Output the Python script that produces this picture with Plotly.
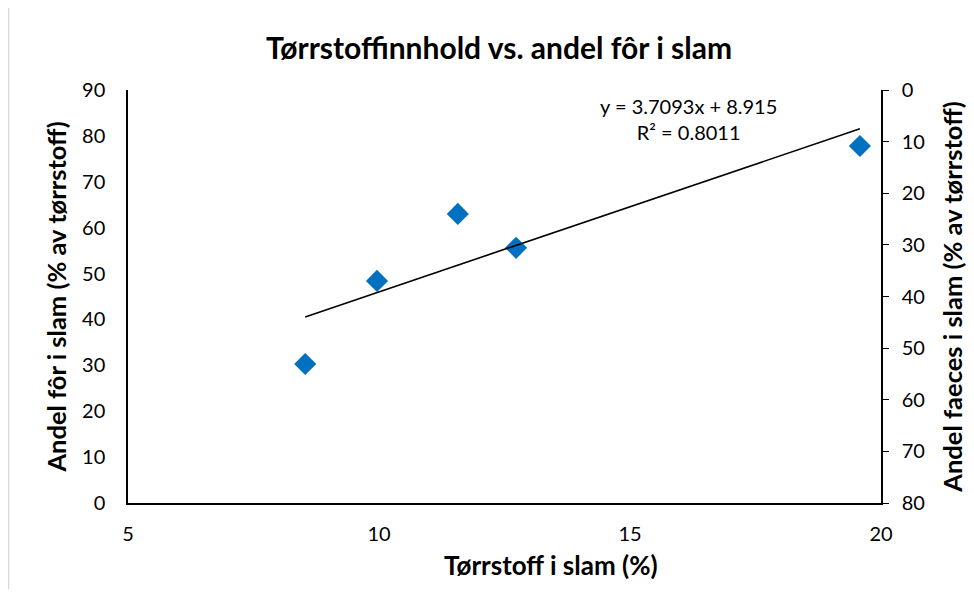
import plotly.graph_objects as go

# Data
torrstoff = [8.53, 9.96, 11.57, 12.73, 19.58]     # Tørrstoff i slam (%)
andel_for = [30.3, 48.4, 63.0, 55.6, 77.8]        # Andel fôr i slam (% av tørrstoff)
slope = 3.7093
intercept = 8.915
r2 = 0.8011

x_ticks = [5, 10, 15, 20]
y_ticks = [0, 10, 20, 30, 40, 50, 60, 70, 80, 90]
y2_ticks = [0, 10, 20, 30, 40, 50, 60, 70, 80]

trend_x = [min(torrstoff), max(torrstoff)]
trend_y = [slope * v + intercept for v in trend_x]

FONT = "Lato"
W, H = 966, 591
L, R, T, B = 120, 93, 82, 96
PW, PH = W - L - R, H - T - B

fig = go.Figure()
fig.add_trace(go.Scatter(
    x=torrstoff, y=andel_for, mode="markers",
    marker=dict(symbol="diamond", size=17, color="#0070C0"),
    showlegend=False, hoverinfo="x+y"))
fig.add_trace(go.Scatter(
    x=trend_x, y=trend_y, mode="lines",
    line=dict(color="black", width=1.6),
    showlegend=False, hoverinfo="skip"))
# invisible trace for right axis
fig.add_trace(go.Scatter(x=[None], y=[None], yaxis="y2", showlegend=False))

fig.update_layout(
    width=W, height=H,
    margin=dict(l=L, r=R, t=T, b=B),
    paper_bgcolor="white", plot_bgcolor="white",
    font=dict(family=FONT, color="black", size=20),
    title=dict(text="<b>Tørrstoffinnhold vs. andel fôr i slam</b>",
               x=491 / W, xanchor="center", y=1 - 40 / H, yanchor="middle",
               font=dict(size=30, family=FONT)),
    xaxis=dict(range=[5, 20], tickvals=x_ticks, showline=True, linecolor="black",
               linewidth=1.5, showgrid=False, zeroline=False, ticks="",
               ticklabelstandoff=12),
    yaxis=dict(range=[0, 90], tickvals=y_ticks, showline=True, linecolor="black",
               linewidth=1.5, showgrid=False, zeroline=False, ticks="",
               ticklabelstandoff=17,
               title=dict(text="<b>Andel fôr i slam (% av tørrstoff)</b>", font=dict(size=25.5), standoff=8)),
    yaxis2=dict(range=[80, 0], tickvals=y2_ticks, overlaying="y", side="right",
                showline=True, linecolor="black", linewidth=1.5, showgrid=False,
                zeroline=False, ticks="outside", ticklen=6, tickcolor="black",
                ticklabelstandoff=9,
                title=dict(text="<b>Andel faeces i slam (% av tørrstoff)</b>", font=dict(size=25.5), standoff=20)),
    annotations=[
        dict(x=16.16, y=83.7, xref="x", yref="y",
             text=f"y = {slope}x + {intercept}<br>R² = {r2}",
             showarrow=False, align="center", font=dict(size=20, family=FONT)),
        dict(x=(543 - L) / PW, y=(495 - 557) / PH, xref="paper", yref="paper",
             text="<b>Tørrstoff i slam (%)</b>", showarrow=False,
             xanchor="center", yanchor="middle", font=dict(size=26, family=FONT)),
    ],
    shapes=[
        dict(type="line", xref="paper", yref="paper",
             x0=(0.5 - L) / PW, x1=(0.5 - L) / PW, y0=(H - T - H) / PH - 0.01, y1=(H - T - 0.5) / PH,
             line=dict(color="#D9D9D9", width=1.5)),
        dict(type="line", xref="paper", yref="paper",
             x0=(0.5 - L) / PW, x1=(W - L) / PW, y0=(H - T - 0.5) / PH, y1=(H - T - 0.5) / PH,
             line=dict(color="#D9D9D9", width=1.5)),
    ],
)

fig.write_html("out.html")
